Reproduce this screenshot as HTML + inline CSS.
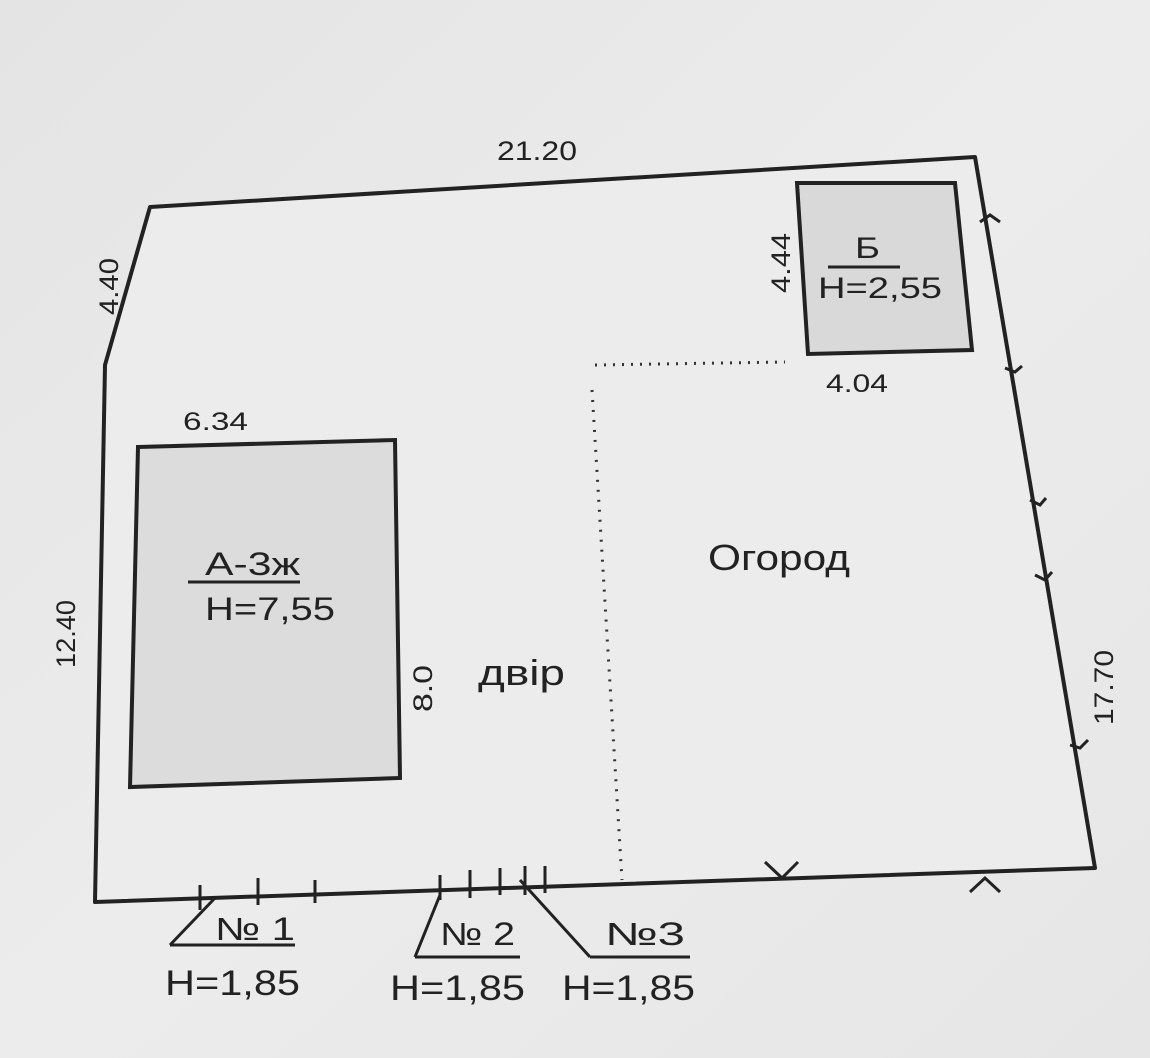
<!DOCTYPE html>
<html><head><meta charset="utf-8"><style>
html,body{margin:0;padding:0;background:#e9e9e9;}
svg{display:block;}
text{font-family:"Liberation Sans",sans-serif;fill:#222;}
</style></head><body>
<svg width="1150" height="1058" viewBox="0 0 1150 1058" xmlns="http://www.w3.org/2000/svg">
<defs><linearGradient id="bg" x1="0" y1="0" x2="1" y2="1"><stop offset="0" stop-color="#e4e4e4"/><stop offset="0.5" stop-color="#ececec"/><stop offset="1" stop-color="#e6e6e6"/></linearGradient></defs>
<rect width="1150" height="1058" fill="url(#bg)"/>
<polygon points="150,207 975,157 1095,868 95,902 105,365" fill="#ececec" stroke="#222" stroke-width="4" stroke-linejoin="round"/>
<polygon points="138,447 395,440 400,778 130,787" fill="#dcdcdc" stroke="#222" stroke-width="4"/>
<polygon points="797,183 955,183 972,350 808,354" fill="#d9d9d9" stroke="#222" stroke-width="4"/>
<line x1="595" y1="365" x2="785" y2="362" stroke="#333" stroke-width="3" stroke-dasharray="2,7"/>
<line x1="592" y1="390" x2="622" y2="880" stroke="#333" stroke-width="3" stroke-dasharray="2,8"/>
<g stroke="#222" stroke-width="3">
<line x1="200" y1="885" x2="200" y2="910"/><line x1="258" y1="878" x2="258" y2="905"/><line x1="315" y1="880" x2="315" y2="903"/>
<line x1="440" y1="875" x2="440" y2="900"/><line x1="470" y1="870" x2="470" y2="898"/><line x1="500" y1="868" x2="500" y2="895"/><line x1="525" y1="866" x2="525" y2="895"/><line x1="545" y1="866" x2="545" y2="893"/>
<line x1="170" y1="945" x2="215" y2="898"/><line x1="170" y1="945" x2="295" y2="945"/>
<line x1="415" y1="957" x2="520" y2="957"/><line x1="415" y1="957" x2="440" y2="895"/>
<line x1="520" y1="880" x2="590" y2="957"/><line x1="590" y1="957" x2="690" y2="957"/>
<line x1="188" y1="582" x2="300" y2="582"/><line x1="828" y1="267" x2="900" y2="267"/>
<polyline points="765,862 782,878 798,862" fill="none"/>
<polyline points="970,892 985,878 1000,892" fill="none"/>
<polyline points="980,222 990,215 1000,222" fill="none"/>
<polyline points="1005,368 1015,372 1022,366" fill="none"/>
<polyline points="1030,500 1040,505 1046,498" fill="none"/>
<polyline points="1035,575 1045,580 1052,572" fill="none"/>
<polyline points="1070,745 1080,748 1088,740" fill="none"/>
</g>
<text x="497" y="160" font-size="27" textLength="80" lengthAdjust="spacingAndGlyphs">21.20</text>
<text x="0" y="0" font-size="27" textLength="57" lengthAdjust="spacingAndGlyphs" transform="translate(118,315) rotate(-90)">4.40</text>
<text x="0" y="0" font-size="27" textLength="68" lengthAdjust="spacingAndGlyphs" transform="translate(75,668) rotate(-90)">12.40</text>
<text x="0" y="0" font-size="27" textLength="75" lengthAdjust="spacingAndGlyphs" transform="translate(1113,725) rotate(-90)">17.70</text>
<text x="0" y="0" font-size="27" textLength="60" lengthAdjust="spacingAndGlyphs" transform="translate(790,293) rotate(-90)">4.44</text>
<text x="0" y="0" font-size="27" textLength="47" lengthAdjust="spacingAndGlyphs" transform="translate(432,712) rotate(-90)">8.0</text>
<text x="183" y="430" font-size="25" textLength="65" lengthAdjust="spacingAndGlyphs">6.34</text>
<text x="826" y="392" font-size="25" textLength="62" lengthAdjust="spacingAndGlyphs">4.04</text>
<text x="205" y="575" font-size="32" textLength="95" lengthAdjust="spacingAndGlyphs">А-3ж</text>
<text x="205" y="620" font-size="32" textLength="130" lengthAdjust="spacingAndGlyphs">Н=7,55</text>
<text x="855" y="258" font-size="30" textLength="25" lengthAdjust="spacingAndGlyphs">Б</text>
<text x="818" y="298" font-size="30" textLength="124" lengthAdjust="spacingAndGlyphs">Н=2,55</text>
<text x="708" y="570" font-size="36" textLength="142" lengthAdjust="spacingAndGlyphs">Огород</text>
<text x="478" y="685" font-size="36" textLength="87" lengthAdjust="spacingAndGlyphs">двір</text>
<text x="215" y="940" font-size="32" textLength="80" lengthAdjust="spacingAndGlyphs">№ 1</text>
<text x="165" y="995" font-size="35" textLength="135" lengthAdjust="spacingAndGlyphs">Н=1,85</text>
<text x="440" y="945" font-size="32" textLength="75" lengthAdjust="spacingAndGlyphs">№ 2</text>
<text x="390" y="1000" font-size="35" textLength="135" lengthAdjust="spacingAndGlyphs">Н=1,85</text>
<text x="605" y="945" font-size="32" textLength="80" lengthAdjust="spacingAndGlyphs">№3</text>
<text x="562" y="1000" font-size="35" textLength="133" lengthAdjust="spacingAndGlyphs">Н=1,85</text>
</svg>
</body></html>
